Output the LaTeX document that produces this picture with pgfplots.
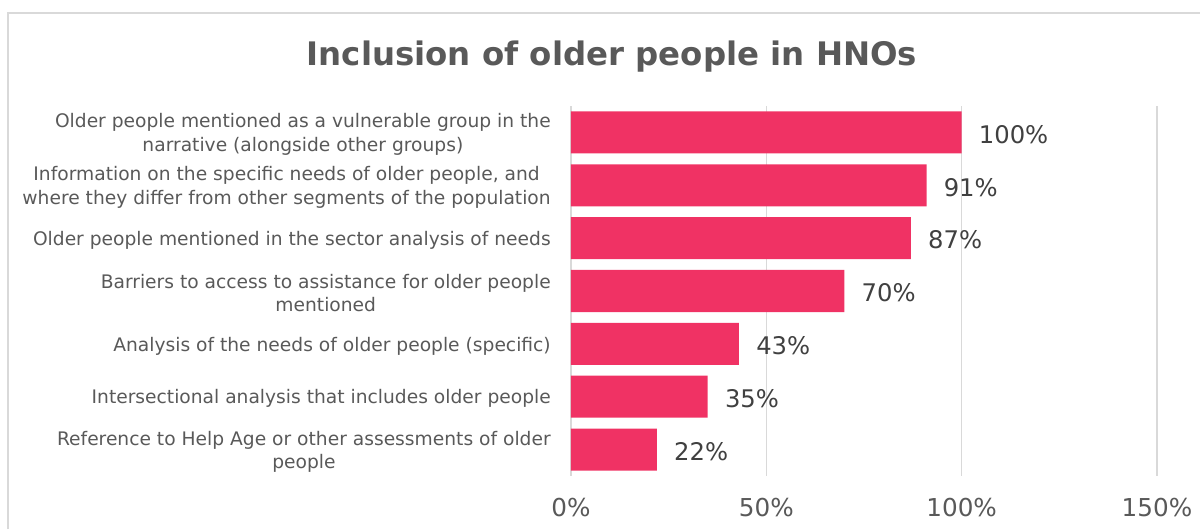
\documentclass[border=0pt]{standalone}
\usepackage{pgfplots}
\pgfplotsset{compat=1.18}
\usepackage{fontspec}
\setmainfont{DejaVu Sans}
\definecolor{barc}{HTML}{F03264}
\definecolor{gridc}{HTML}{D9D9D9}
\definecolor{txt}{HTML}{595959}
\definecolor{lbl}{HTML}{404040}
\begin{document}
\begin{tikzpicture}
\useasboundingbox (0,0) rectangle (900pt,396.75pt);
\draw[gridc, line width=1.1pt] (6pt,0) -- (6pt,387pt) -- (900pt,387pt);
\node[anchor=base, inner sep=0pt, font=\fontsize{24.3}{30}\selectfont\bfseries, text=txt] at (459pt,347.25pt) {Inclusion of older people in HNOs};
\begin{axis}[
  at={(428.25pt,39.75pt)}, anchor=south west,
  scale only axis, width=439.5pt, height=277.5pt,
  xbar, bar width=0.795,
  xmin=0, xmax=150, ymin=-0.5, ymax=6.5, y dir=reverse,
  xtick={0,50,100,150}, xticklabels={0\%,50\%,100\%,150\%},
  ytick={0,1,2,3,4,5,6},
  yticklabels={
    {Older people mentioned as a vulnerable group in the\\narrative (alongside other groups)},
    {Information on the specific needs of older people, and\\where they differ from other segments of the population},
    {Older people mentioned in the sector analysis of needs},
    {Barriers to access to assistance for older people\\mentioned},
    {Analysis of the needs of older people (specific)},
    {Intersectional analysis that includes older people},
    {Reference to Help Age or other assessments of older\\people}},
  major tick length=0pt,
  axis line style={draw=none},
  xmajorgrids, major grid style={gridc, line width=1.1pt},
  xticklabel style={font=\fontsize{18.5}{22}\selectfont, text=txt, inner sep=0pt, anchor=north, yshift=-16.5pt},
  yticklabel style={font=\fontsize{14}{17.5}\selectfont, text=txt, inner sep=0pt, anchor=east, align=center, xshift=-15pt, yshift=-1.5pt},
  point meta=x,
  nodes near coords={\pgfmathprintnumber[assume math mode=true]{\pgfplotspointmeta}\%},
  every node near coord/.append style={anchor=west, inner sep=0pt, xshift=12.75pt, yshift=-1.5pt, font=\fontsize{18.2}{22}\selectfont, text=lbl},
]
\addplot[fill=barc, draw=none] coordinates {(100,0) (91,1) (87,2) (70,3) (43,4) (35,5) (22,6)};
\end{axis}
\end{tikzpicture}
\end{document}
